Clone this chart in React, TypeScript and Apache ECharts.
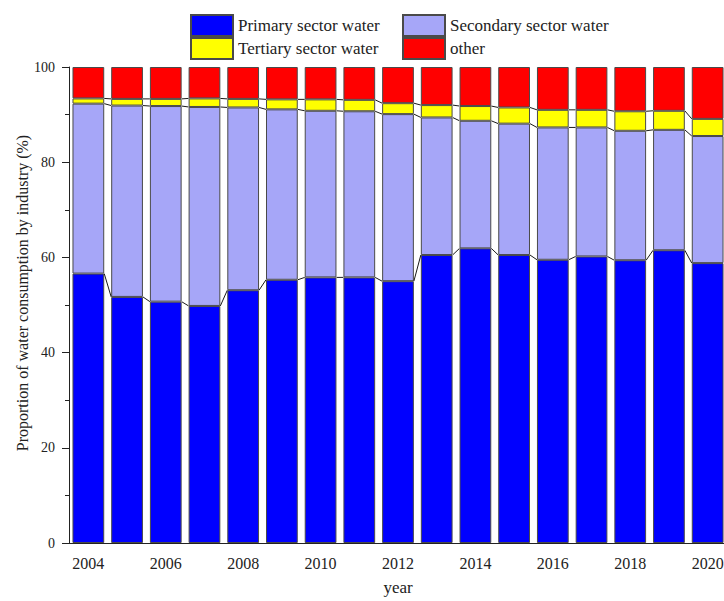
import React, { useEffect, useRef } from "react";
import * as echarts from "echarts";

// Share of water consumption by industry, 2004–2020 (%)
const years = [
  "2004", "2005", "2006", "2007", "2008", "2009", "2010", "2011", "2012",
  "2013", "2014", "2015", "2016", "2017", "2018", "2019", "2020",
];
const primary = [56.6, 51.7, 50.7, 49.8, 53.1, 55.3, 55.8, 55.8, 55.0, 60.5, 61.9, 60.5, 59.5, 60.2, 59.4, 61.5, 58.8];
const secondary = [35.7, 40.2, 41.1, 41.8, 38.4, 35.8, 35.0, 34.9, 35.1, 28.9, 26.8, 27.6, 27.8, 27.1, 27.2, 25.3, 26.7];
const tertiary = [1.1, 1.4, 1.5, 1.8, 1.8, 2.1, 2.4, 2.4, 2.3, 2.6, 3.1, 3.4, 3.7, 3.7, 4.1, 4.0, 3.6];
const other = [6.6, 6.7, 6.7, 6.6, 6.7, 6.8, 6.8, 6.9, 7.6, 8.0, 8.2, 8.5, 9.0, 9.0, 9.3, 9.2, 10.9];

const seriesNames = ["Primary sector water", "Secondary sector water", "Tertiary sector water", "other"];
const seriesColors = ["#0000FF", "#A6A6F8", "#FFFF00", "#FF0000"];

const FONT = "'Liberation Serif', 'DejaVu Serif', serif";
const INK = "#222";
const BAR_RATIO = 0.82;

export default function App() {
  const ref = useRef<HTMLDivElement>(null);

  useEffect(() => {
    if (!ref.current) return;
    const chart = echarts.init(ref.current, undefined, { renderer: "svg" });

    const layers = [primary, secondary, tertiary, other];
    // cumulative tops of the lower three layers, used by the connector lines
    const cum = years.map((_, i) => {
      const c1 = primary[i];
      const c2 = c1 + secondary[i];
      const c3 = c2 + tertiary[i];
      return [c1, c2, c3];
    });
    const connectorData = years.slice(0, -1).map((_, i) => [i, ...cum[i], ...cum[i + 1]]);

    const barSeries = layers.map((vals, k) => ({
      name: seriesNames[k],
      type: "bar",
      stack: "total",
      barWidth: `${BAR_RATIO * 100}%`,
      data: vals,
      itemStyle: { color: seriesColors[k], borderColor: "#4a4a4a", borderWidth: 1 },
      z: 2,
    }));

    const legendPos = [
      [190, 14],
      [402, 14],
      [190, 37],
      [402, 37],
    ];
    const legends = seriesNames.map((n, k) => ({
      data: [n],
      left: legendPos[k][0],
      top: legendPos[k][1],
      padding: 0,
      itemWidth: 42,
      itemHeight: 21,
      icon: "rect",
      selectedMode: false,
      textStyle: { fontFamily: FONT, fontSize: 17, color: INK, padding: [0, 0, 0, 0] },
    }));

    chart.setOption({
      animation: false,
      backgroundColor: "#fff",
      grid: { left: 69, right: 13, top: 67, bottom: 53 },
      legend: legends,
      xAxis: [
        {
          type: "category",
          data: years,
          axisLine: { lineStyle: { color: INK, width: 1 } },
          axisTick: { alignWithLabel: true, interval: 0, length: 4, lineStyle: { color: INK } },
          axisLabel: { interval: 1, fontFamily: FONT, fontSize: 16, color: INK, margin: 12 },
          name: "year",
          nameLocation: "middle",
          nameGap: 36,
          nameTextStyle: { fontFamily: FONT, fontSize: 17, color: INK },
        },
        {
          type: "category",
          data: years,
          position: "bottom",
          axisLine: { show: false },
          axisTick: { alignWithLabel: true, interval: 1, length: 7, lineStyle: { color: INK } },
          axisLabel: { show: false },
        },
      ],
      yAxis: {
        type: "value",
        min: 0,
        max: 100,
        interval: 20,
        axisLine: { show: true, lineStyle: { color: INK, width: 1 } },
        axisTick: { show: true, length: 7, lineStyle: { color: INK } },
        minorTick: { show: true, splitNumber: 2, length: 4, lineStyle: { color: INK } },
        splitLine: { show: false },
        axisLabel: { fontFamily: FONT, fontSize: 14, color: INK, margin: 14 },
      },
      graphic: [
        {
          type: "text",
          x: 22,
          y: 293,
          rotation: Math.PI / 2,
          style: {
            text: "Proportion of water consumption by industry (%)",
            fontFamily: FONT,
            fontSize: 16,
            fill: INK,
            align: "center",
            verticalAlign: "middle",
          },
        },
      ],
      series: [
        ...barSeries,
        {
          type: "custom",
          name: "connectors",
          xAxisIndex: 0,
          data: connectorData,
          encode: { x: 0, y: 1 },
          z: 5,
          silent: true,
          renderItem: (params: any, api: any) => {
            const i = api.value(0);
            const band = api.size([1, 0])[0];
            const half = (band * BAR_RATIO) / 2;
            const children = [];
            for (let k = 0; k < 3; k++) {
              const a = api.coord([i, api.value(1 + k)]);
              const b = api.coord([i + 1, api.value(4 + k)]);
              children.push({
                type: "line",
                shape: { x1: a[0] + half, y1: a[1], x2: b[0] - half, y2: b[1] },
                style: { stroke: "#1a1a1a", lineWidth: 1 },
              });
            }
            return { type: "group", children };
          },
        },
      ],
    });

    return () => chart.dispose();
  }, []);

  return (
    <div
      style={{
        position: "fixed",
        left: 0,
        top: 0,
        width: 724,
        height: 601,
        overflow: "hidden",
        background: "#fff",
      }}
    >
      <div ref={ref} style={{ width: 740, height: 601 }} />
    </div>
  );
}
